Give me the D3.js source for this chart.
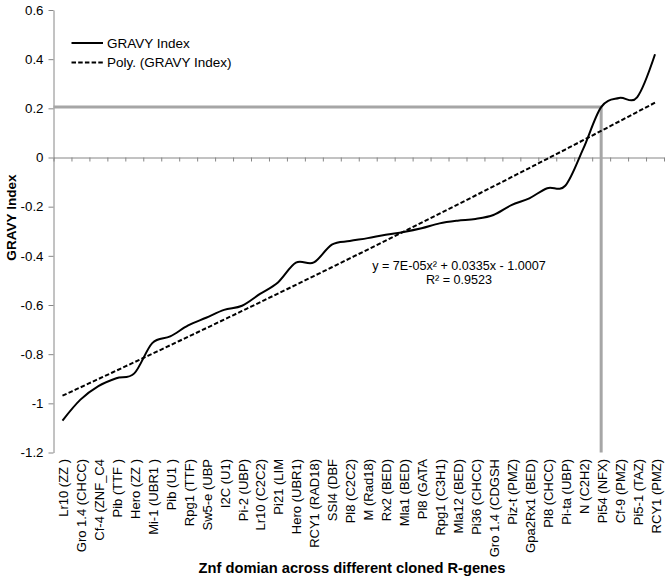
<!DOCTYPE html>
<html>
<head>
<meta charset="utf-8">
<script src="https://cdn.jsdelivr.net/npm/d3@7"></script>
<style>
  html, body { margin: 0; padding: 0; background: #fff; }
  svg { display: block; font-family: "Liberation Sans", Arial, sans-serif; }
</style>
</head>
<body>
<svg id="chart" width="668" height="584"></svg>
<script>
// ---- data ----
const categories = [
  "Lr10 (ZZ )", "Gro 1.4 (CHCC)", "Cf-4 (ZNF_C4", "Pib (TTF )", "Hero (ZZ )",
  "Mi-1 (UBR1 )", "Pib (U1 )", "Rpg1 (TTF)", "Sw5-e (UBP", "I2C (U1)",
  "Pi-2 (UBP)", "Lr10 (C2C2)", "Pi21 (LIM", "Hero (UBR1)", "RCY1 (RAD18)",
  "SSI4 (DBF", "Pl8 (C2C2)", "M (Rad18)", "Rx2 (BED)", "Mla1 (BED)",
  "Pl8 (GATA", "Rpg1 (C3H1)", "Mla12 (BED)", "Pi36 (CHCC)", "Gro 1.4 (CDGSH",
  "Piz-t (PMZ)", "Gpa2Rx1  (BED)", "Pl8 (CHCC)", "Pi-ta (UBP)", "N (C2H2)",
  "Pi54 (NFX)", "Cf-9 (PMZ)", "Pi5-1 (TAZ)", "RCY1 (PMZ)"
];
const gravyIndex = [
  -1.07, -0.985, -0.93, -0.898, -0.878,
  -0.755, -0.728, -0.683, -0.652, -0.62,
  -0.603, -0.555, -0.508, -0.428, -0.427,
  -0.354, -0.34, -0.328, -0.314, -0.303,
  -0.288, -0.268, -0.257, -0.25, -0.234,
  -0.194, -0.166, -0.125, -0.115, 0.035,
  0.205, 0.242, 0.245, 0.42
];
const yTicks = [0.6, 0.4, 0.2, 0, -0.2, -0.4, -0.6, -0.8, -1, -1.2];
const legendLabels = ["GRAVY Index", "Poly. (GRAVY Index)"];
const equationLines = ["y = 7E-05x\u00B2 + 0.0335x - 1.0007", "R\u00B2 = 0.9523"];
const markerCategory = "Pi54 (NFX)";
const xTitle = "Znf  domian across different cloned R-genes";
const yTitle = "GRAVY Index";

// ---- layout ----
const svg = d3.select("#chart");
const plotLeft = 53.5, plotRight = 664, plotTop = 10, plotBottom = 452.5;
const axisColor = "#868686";

const x = d3.scalePoint().domain(categories).range([plotLeft, plotRight]).padding(0.5);
const xb = d3.scaleLinear().domain([0, categories.length]).range([plotLeft, plotRight]);
const y = d3.scaleLinear().domain([-1.2, 0.6]).range([plotBottom, plotTop]);

svg.append("rect").attr("width", 668).attr("height", 584).attr("fill", "#fff");

// y axis
const yAxis = svg.append("g")
  .attr("transform", `translate(${plotLeft},0)`)
  .call(d3.axisLeft(y).tickValues(yTicks).tickSize(5).tickPadding(5)
    .tickSizeOuter(0).tickFormat(d => String(+d.toFixed(1))));
yAxis.select(".domain").attr("stroke", axisColor);
yAxis.selectAll(".tick line").attr("stroke", axisColor);
yAxis.selectAll(".tick text").attr("font-size", "13.3px").attr("fill", "#000")
  .attr("font-family", "Liberation Sans, Arial, sans-serif");

// x axis at y=0
const xAxis = svg.append("g")
  .attr("transform", `translate(0,${y(0)})`)
  .call(d3.axisBottom(xb).tickValues(d3.range(categories.length + 1))
    .tickSize(4).tickSizeOuter(0).tickFormat(""));
xAxis.select(".domain").attr("stroke", axisColor);
xAxis.selectAll(".tick line").attr("stroke", axisColor);

// category labels
svg.append("g").selectAll("text").data(categories).join("text")
  .attr("transform", d => `translate(${x(d) + 5.5},459) rotate(-90)`)
  .attr("text-anchor", "end")
  .attr("font-size", "13px")
  .attr("fill", "#000")
  .text(d => d);

// gray marker lines
const mx = x(markerCategory);
const mv = gravyIndex[categories.indexOf(markerCategory)];
svg.append("path")
  .attr("d", `M${plotLeft},${y(mv)}H${mx}V${plotBottom}`)
  .attr("fill", "none").attr("stroke", "#a6a6a6").attr("stroke-width", 3);

// polynomial trend (least squares, degree 2) computed from data
function polyfit2(xs, ys) {
  const S = [0, 0, 0, 0, 0], T = [0, 0, 0];
  xs.forEach((xv, i) => {
    for (let k = 0; k < 5; k++) S[k] += Math.pow(xv, k);
    for (let k = 0; k < 3; k++) T[k] += Math.pow(xv, k) * ys[i];
  });
  const A = [[S[0], S[1], S[2], T[0]], [S[1], S[2], S[3], T[1]], [S[2], S[3], S[4], T[2]]];
  for (let c = 0; c < 3; c++) {
    for (let r = c + 1; r < 3; r++) {
      const f = A[r][c] / A[c][c];
      for (let k = c; k < 4; k++) A[r][k] -= f * A[c][k];
    }
  }
  const sol = [0, 0, 0];
  for (let r = 2; r >= 0; r--) {
    let s = A[r][3];
    for (let k = r + 1; k < 3; k++) s -= A[r][k] * sol[k];
    sol[r] = s / A[r][r];
  }
  return sol; // c0, c1, c2
}
const xsIdx = gravyIndex.map((_, i) => i + 1);
const coef = polyfit2(xsIdx, gravyIndex);
const xi = d3.scaleLinear().domain([1, categories.length])
  .range([x(categories[0]), x(categories[categories.length - 1])]);
const trendPts = d3.range(1, categories.length + 0.001, 0.25)
  .map(t => [xi(t), y(coef[0] + coef[1] * t + coef[2] * t * t)]);
svg.append("path")
  .attr("d", d3.line()(trendPts))
  .attr("fill", "none").attr("stroke", "#000").attr("stroke-width", 2)
  .attr("stroke-dasharray", "4.5,2.2");

// data line (smoothed)
svg.append("path")
  .datum(gravyIndex)
  .attr("d", d3.line().x((d, i) => x(categories[i])).y(d => y(d))
    .curve(d3.curveCatmullRom.alpha(0)))
  .attr("fill", "none").attr("stroke", "#000").attr("stroke-width", 2);

// equation
svg.append("g").selectAll("text").data(equationLines).join("text")
  .attr("x", 459).attr("y", (d, i) => 270 + i * 14)
  .attr("text-anchor", "middle").attr("font-size", "12.6px").attr("fill", "#000")
  .text(d => d);

// legend
const lg = svg.append("g");
legendLabels.forEach((lab, i) => {
  const ly = 43 + i * 19.5;
  lg.append("line").attr("x1", 71.5).attr("x2", 103).attr("y1", ly).attr("y2", ly)
    .attr("stroke", "#000").attr("stroke-width", 2)
    .attr("stroke-dasharray", i === 1 ? "4.5,2.2" : null);
  lg.append("text").attr("x", 107).attr("y", ly + 4.8)
    .attr("font-size", "13.5px").attr("fill", "#000").text(lab);
});

// axis titles
svg.append("text").attr("x", 352).attr("y", 573)
  .attr("text-anchor", "middle").attr("font-size", "14.7px").attr("font-weight", "bold")
  .attr("fill", "#000").text(xTitle);
svg.append("text").attr("transform", "translate(16,217.5) rotate(-90)")
  .attr("text-anchor", "middle").attr("font-size", "13.6px").attr("font-weight", "bold")
  .attr("fill", "#000").text(yTitle);
</script>
</body>
</html>
